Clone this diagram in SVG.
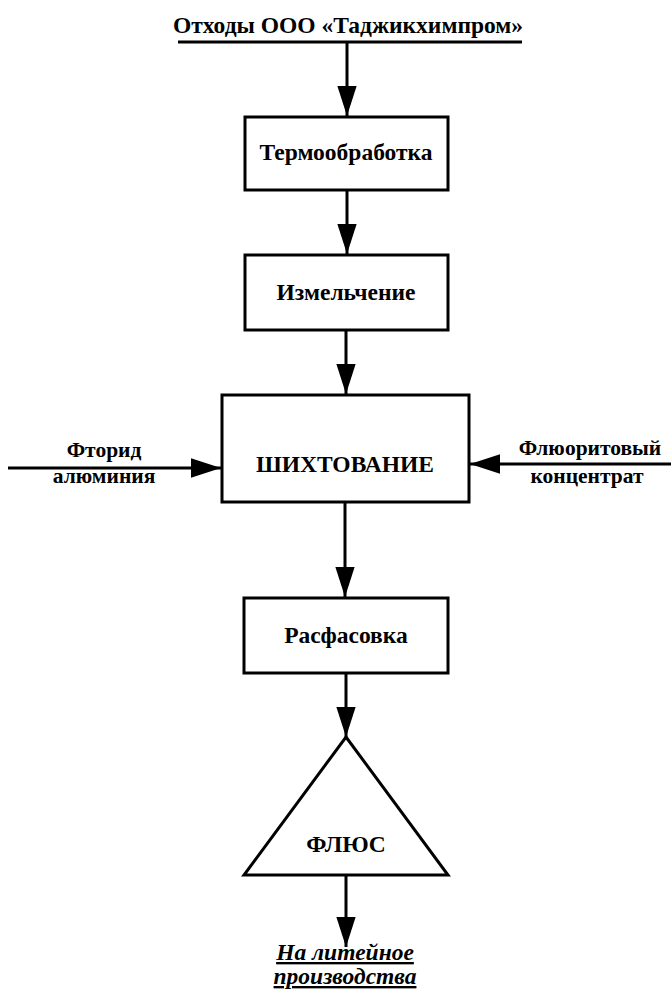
<svg xmlns="http://www.w3.org/2000/svg" width="671" height="995" viewBox="0 0 671 995">
<style>
.box{fill:#fff;stroke:#000;stroke-width:3}
.ln{fill:none;stroke:#000;stroke-width:3}
.t{font-family:"Liberation Serif","Times New Roman",serif;font-weight:bold;font-size:23.5px;fill:#000;text-anchor:middle}
.s{font-size:21.5px}
.it{font-style:italic;text-decoration:underline}
</style>
<defs>
<marker id="ah" markerUnits="userSpaceOnUse" markerWidth="30" markerHeight="20" viewBox="0 0 28 18" refX="28" refY="9" orient="auto">
<path d="M0,0 L28,9 L0,18 Z" fill="#000"/>
</marker>
</defs>
<rect width="671" height="995" fill="#fff"/>
<g id="source">
<text class="t" x="348" y="33">Отходы ООО «Таджикхимпром»</text>
<line class="ln" x1="178" y1="42" x2="522" y2="42"/>
</g>
<g id="termo">
<rect class="box" x="245" y="117" width="203" height="73"/>
<text class="t" x="346" y="160">Термообработка</text>
</g>
<g id="izmel">
<rect class="box" x="245" y="255" width="203" height="75"/>
<text class="t" x="346" y="300">Измельчение</text>
</g>
<g id="shiht">
<rect class="box" x="222" y="395" width="247" height="107"/>
<text class="t" x="345" y="472">ШИХТОВАНИЕ</text>
</g>
<g id="ftorid">
<text class="t s" x="104" y="457">Фторид</text>
<text class="t s" x="104" y="483">алюминия</text>
</g>
<g id="fluorit">
<text class="t s" x="590" y="455">Флюоритовый</text>
<text class="t s" x="587" y="483">концентрат</text>
</g>
<g id="rasfas">
<rect class="box" x="244" y="598" width="204" height="75"/>
<text class="t" x="346" y="643">Расфасовка</text>
</g>
<g id="flus">
<polygon class="box" points="346,737 448,875 244,875"/>
<text class="t" x="346" y="852">ФЛЮС</text>
</g>
<g id="output">
<text class="t it" x="345" y="960">На литейное</text>
<text class="t it" x="345" y="984">производства</text>
</g>
<g id="connectors">
<line class="ln" x1="347" y1="42" x2="347" y2="116" marker-end="url(#ah)"/>
<line class="ln" x1="347" y1="190" x2="347" y2="254" marker-end="url(#ah)"/>
<line class="ln" x1="346" y1="330" x2="346" y2="394" marker-end="url(#ah)"/>
<line class="ln" x1="8" y1="468" x2="221" y2="468" marker-end="url(#ah)"/>
<line class="ln" x1="671" y1="464" x2="470" y2="464" marker-end="url(#ah)"/>
<line class="ln" x1="345" y1="502" x2="345" y2="597" marker-end="url(#ah)"/>
<line class="ln" x1="346" y1="673" x2="346" y2="737" marker-end="url(#ah)"/>
<line class="ln" x1="346" y1="875" x2="346" y2="947" marker-end="url(#ah)"/>
</g>
</svg>
